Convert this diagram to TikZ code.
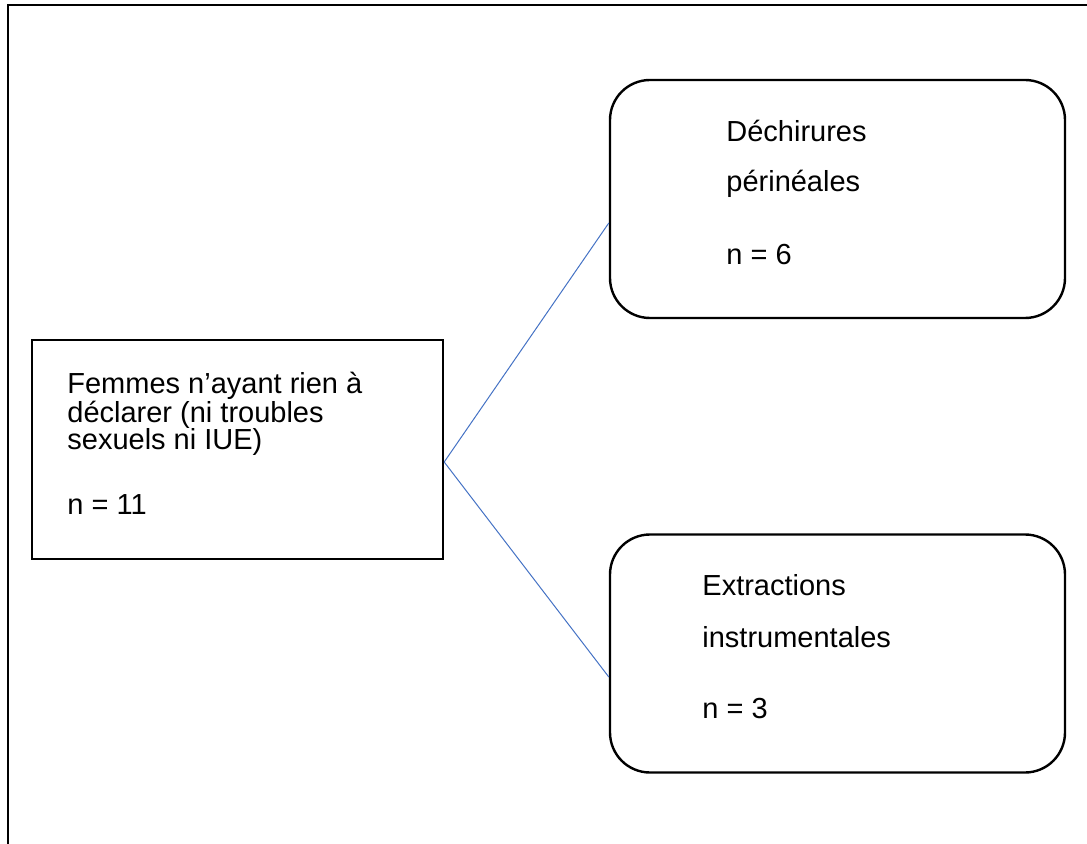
\documentclass[tikz,border=0pt]{standalone}
\usepackage{fontspec}
\setmainfont{Liberation Sans}
\usepackage{xcolor}
\usetikzlibrary{positioning}

\definecolor{linkblue}{RGB}{68,114,196}

\begin{document}
\begin{tikzpicture}[x=0.5pt,y=-0.5pt,
 groupbox/.style={draw=black,line width=1.2pt,inner sep=0pt},
 subbox/.style={groupbox,rounded corners=20pt,
   minimum width=227.5pt,minimum height=119pt},
 entry/.style={anchor=base west,align=left,inner sep=0pt,
   font=\fontsize{14.5}{14}\selectfont},
 link/.style={draw=linkblue,line width=.5pt}
]
\useasboundingbox (0,0) rectangle (1087,844);

% outer frame (open at right and bottom)
\draw[line width=1.2pt] (8,844) -- (8,5) -- (1087,5);

\node[groupbox,minimum width=205.5pt,minimum height=109.5pt] (femmes)
 at (237.5,449.5) {};
\node[subbox] (dechirures) at (837.5,199) {};
\node[subbox] (extractions) at (837.5,653.5) {};

% text anchored on the baseline of its last line
\node[entry] (femmestext) at (67,515)
 {Femmes n’ayant rien à\\déclarer (ni troubles\\sexuels ni IUE)\\[18.5pt]n = 11};
\node[entry] (dechirurestext) at (726,265)
 {Déchirures\\[11pt]périnéales\\[22.5pt]n = 6};
\node[entry] (extractionstext) at (702,718)
 {Extractions\\[12pt]instrumentales\\[21.5pt]n = 3};

\draw[link] ([yshift=-6.25pt]femmes.east) -- ([yshift=-12pt]dechirures.west);
\draw[link] ([yshift=-6.25pt]femmes.east) -- ([yshift=-11.75pt]extractions.west);
\end{tikzpicture}
\end{document}
